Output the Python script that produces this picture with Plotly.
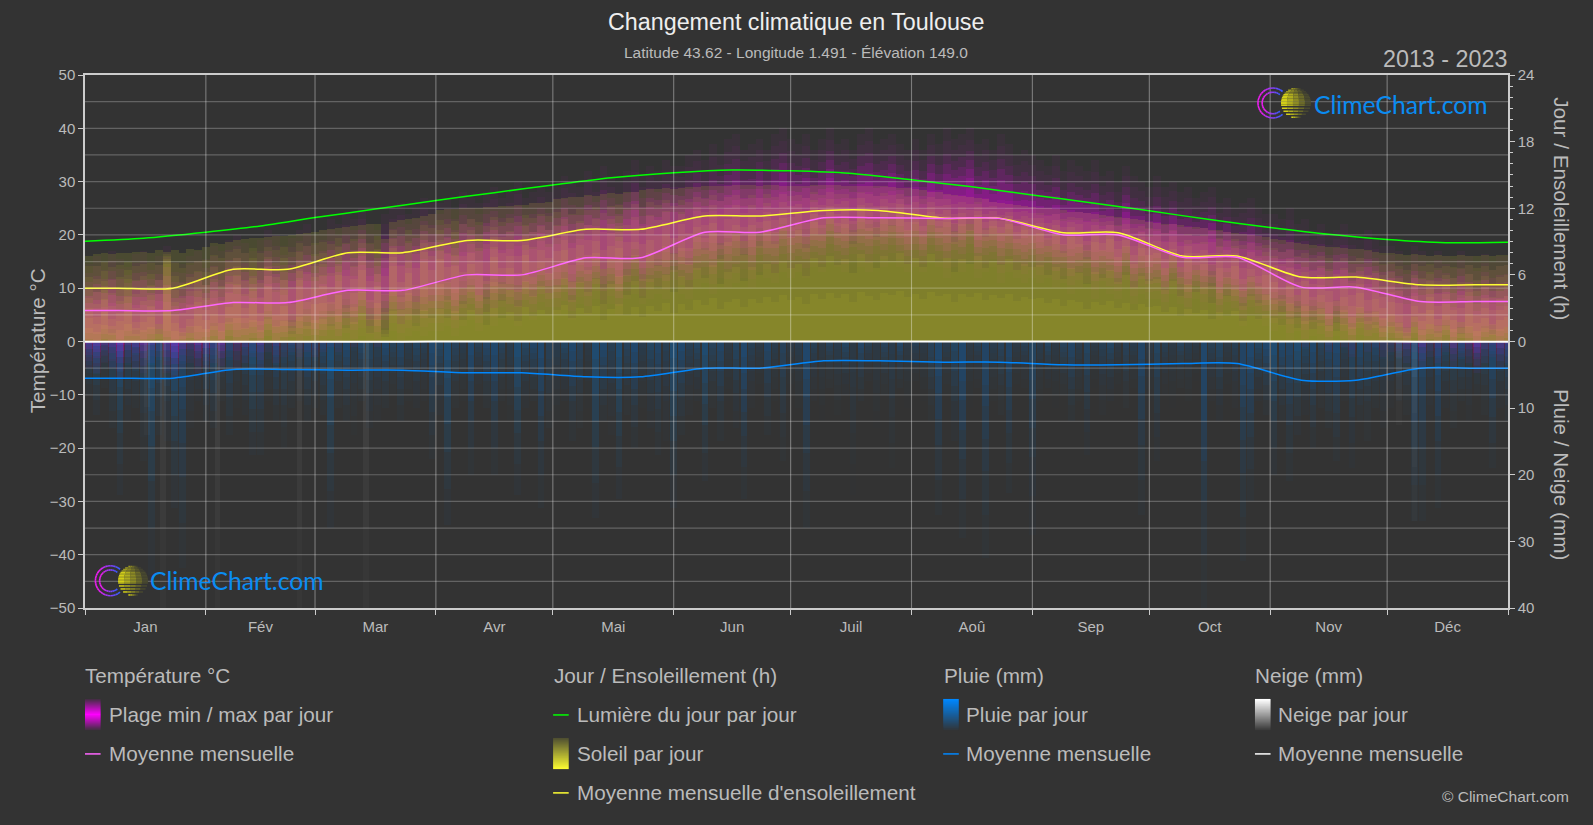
import math
import plotly.graph_objects as go

# ---------- data ----------
MONTHS = ["Jan", "Fév", "Mar", "Avr", "Mai", "Jun", "Juil", "Aoû", "Sep", "Oct", "Nov", "Déc"]
MONTH_LEN = [31, 28, 31, 30, 31, 30, 31, 31, 30, 31, 30, 31]

TEMP_MONTH = [5.8, 7.3, 9.6, 12.5, 15.7, 20.5, 23.2, 23.1, 20.0, 15.8, 10.2, 7.5]
SUN_MONTH = [4.8, 6.5, 8.0, 9.1, 10.1, 11.3, 11.8, 11.1, 9.8, 7.7, 5.8, 5.1]
RAIN_MONTH = [5.5, 4.2, 4.3, 4.7, 5.3, 4.0, 2.9, 3.1, 3.5, 3.3, 5.8, 4.0]
SNOW_MONTH = [0.05, 0.05, 0.03, 0, 0, 0, 0, 0, 0, 0, 0, 0.02]

DAYLIGHT_DAY = [0, 15, 31, 45, 59, 74, 90, 105, 120, 135, 151, 166, 181, 196, 212, 227, 243, 258, 273, 288, 304, 319, 334, 349, 365]
DAYLIGHT_H = [9.03, 9.3, 9.84, 10.4, 11.16, 11.9, 12.7, 13.4, 14.1, 14.75, 15.2, 15.45, 15.37, 15.15, 14.56, 13.95, 13.2, 12.5, 11.77, 11.0, 10.27, 9.65, 9.18, 8.9, 8.94]

# two-day readings
SUN_MAX = [7.7,7.9,8.0,7.9,8.0,8.0,8.1,8.1,8.0,8.2,8.1,8.2,8.0,8.3,8.2,8.5,
 8.9,8.8,9.0,9.1,9.2,9.3,9.3,9.4,9.5,9.5,9.6,9.7,9.8,9.9,
 10.0,10.1,10.2,10.3,10.4,10.5,10.6,10.6,9.2,10.8,10.9,11.0,11.1,11.3,11.5,
 11.8,11.9,11.9,12.0,12.0,12.0,12.1,12.1,12.2,12.2,12.3,12.3,12.5,12.5,12.6,
 12.8,12.9,13.0,13.0,13.2,13.1,13.3,13.4,13.3,13.5,13.5,13.6,13.7,13.7,13.8,13.7,
 13.8,13.9,13.9,14.0,14.0,14.0,14.0,14.1,14.1,14.1,14.0,14.1,14.1,14.0,14.0,
 14.0,14.0,14.1,14.1,14.1,14.1,14.0,14.0,14.0,14.0,14.0,14.0,13.9,13.8,13.8,
 13.7,13.6,13.5,13.5,13.3,13.2,13.1,13.0,12.9,12.8,12.6,12.5,12.4,12.3,12.2,12.1,
 12.0,12.0,11.9,11.8,11.7,11.7,11.6,11.5,11.4,11.3,11.2,11.1,11.0,10.9,10.8,
 10.7,10.6,10.6,10.5,10.3,10.3,10.2,10.0,10.0,9.9,9.8,9.7,9.6,9.5,9.4,
 9.2,9.1,9.0,8.9,8.8,8.7,8.6,8.5,8.5,8.4,8.3,8.3,8.2,8.1,8.0,
 8.0,7.9,7.8,7.9,7.8,7.7,7.8,7.7,7.7,7.8,7.7,7.7,7.8,7.7,7.8,7.8]
SUN_TYP = [3.0,2.2,3.8,2.0,2.6,4.0,1.8,2.5,3.2,1.6,7.0,2.4,1.2,2.0,3.6,2.8,
 3.5,2.4,4.4,5.2,3.0,4.8,2.6,5.0,3.4,4.6,1.8,5.5,3.6,4.8,
 5.0,3.6,6.0,3.0,4.4,6.4,2.0,5.0,1.0,6.8,4.0,6.2,3.6,7.2,5.2,
 7.4,5.4,6.8,4.8,7.0,6.0,3.8,7.6,5.2,6.6,4.6,7.8,5.8,7.2,6.2,
 7.0,8.2,5.4,7.6,6.4,8.0,4.8,7.4,8.4,6.0,7.8,5.6,8.0,6.8,8.6,6.4,
 8.4,7.0,9.4,8.2,9.8,7.4,9.0,9.6,7.8,9.6,8.6,10.0,8.8,10.4,9.4,
 10.0,8.4,10.8,9.6,11.0,9.8,10.6,8.8,11.2,10.2,9.4,11.0,10.4,11.4,10.0,
 10.8,9.6,11.2,10.2,10.8,9.0,10.6,10.0,11.0,9.4,10.4,9.8,10.6,9.2,10.0,9.6,
 9.8,8.6,9.6,8.0,9.4,8.8,7.4,9.0,8.2,9.2,7.6,8.6,7.0,8.4,7.8,
 8.0,6.6,7.8,5.8,7.4,6.4,7.0,5.0,6.6,5.8,6.8,4.6,5.8,5.0,6.0,
 5.4,3.8,5.0,3.0,4.6,2.8,4.2,3.6,2.4,4.0,3.2,4.4,2.6,3.8,3.0,
 3.6,2.4,1.2,3.2,2.6,4.0,2.0,3.4,2.8,1.8,3.6,2.4,3.0,1.6,2.8,3.2]
TEMP_MAX = [14.5,16,15,17,15.5,14,16.5,17,15,16,18,15,14.5,16,17,15.5,
 18,17,19,20,18.5,17,19,21,20,18,19.5,21,22,20,
 21,23,22,24,23,25,22,21,24,25,26,24,25,27,26,
 26,27,25,28,27,26,28,29,27,28,30,27,28,29,28,
 29,31,30,29,32,30,33,31,30,32,34,31,33,32,34,33,
 33,35,36,34,37,35,38,39,36,37,38,36,39,40,38,
 37,39,36,38,40,37,38,36,39,40,37,38,39,37,36,
 38,36,39,37,40,38,39,40,37,38,36,39,37,35,36,35,
 34,33,35,32,34,33,32,34,31,32,30,33,31,30,29,
 31,29,30,28,29,27,28,29,26,27,25,26,27,25,24,
 24,23,25,22,23,21,22,20,21,22,20,19,21,19,18,
 18,17,16,18,17,16,17,16,15.5,17,16,15,16.5,15,16,16]
TEMP_MIN = [-5,-6,-4,-5,-7,-4,-5,-6,-4,-3,-6,-7,-5,-4,-6,-5,
 -4,-6,-3,-5,-4,-3,-5,-2,-4,-3,-2,-3,-2,-3,
 -2,-1,-2,0,-1,1,0,-1,1,2,0,1,2,1,2,
 2,3,1,3,4,2,4,3,5,4,3,5,4,6,5,
 5,6,4,7,5,8,6,7,5,8,9,7,8,9,8,10,
 9,8,10,11,9,12,10,11,12,10,13,12,11,13,12,
 13,12,14,13,15,14,13,15,14,13,15,14,15,14,13,
 14,13,15,14,12,14,13,15,12,13,14,11,13,12,11,12,
 11,12,10,11,9,10,11,8,10,9,8,10,7,9,8,
 8,6,9,7,5,8,6,7,4,6,5,3,5,4,3,
 2,3,0,2,-1,1,0,-2,1,-1,-3,0,-2,-1,-3,
 -2,-3,-4,-2,-5,-3,-4,-2,-5,-3,-4,-6,-4,-3,-5,-4]
RAIN_MAX = [8,11,7,13,23,12,10,18,35,14,15,25,34,13,9,12,
 13,9,14,10,11,17,17,9,12,16,10,9,12,10,
 11,28,10,12,14,9,13,12,10,8,12,9,10,9,17.6,
 11,27.6,10,9,20,8,10,20,9,12,23,10,9,25,13,
 12,9,15,13,10,26.5,12,14,23.6,11,16,10,13,17,15,25,
 14,11,9,21,10,15,9,13,23.6,10,8,14,9,18,8,
 10,28,9,12,7,11,8,23,9,6,13,8,19,7,10,
 6,9,12,26,8,15,29.5,10,7,32.5,9,11,22.8,8,7,29,
 9,7,10,8,12,9,17,7,11,9,8,10,7,26,9,
 18,8,10,7,9,6,40,9,12,8,10,33,24,9,11,
 20,12,21,14,11,16,10,13,18,9,19,12,15,10,13,
 10,9,11,27,27,12,25,10,13,9,12,8,11,19,10,12]
RAIN_WET = [.8,1,.6,.8,1,.7,.9,.6,1,.9,.7,1,.8,.5,.7,.9,
 .9,.6,.8,.4,.7,1,.8,.4,.9,.6,.8,.5,.9,.7,
 .8,1,.6,.9,.4,.8,.7,.5,.9,.6,.8,.4,.7,.5,.9,
 .7,1,.6,.4,.9,.5,.8,.9,.6,.4,1,.7,.8,.9,.6,
 .4,.7,.9,.6,.3,1,.9,.5,1,.6,.9,.4,.7,.8,.5,1,
 .9,.5,.7,1,.6,.8,.3,.7,.9,.5,.3,.8,.4,.6,.3,
 .4,.9,.5,.3,.6,.4,.7,.3,.8,.5,.3,.6,.4,.8,.3,
 .5,.3,.6,.9,.4,.7,.9,.3,.5,.8,.4,.6,.8,.3,.5,.7,
 .4,.7,.3,.6,.8,.4,.7,.3,.5,.7,.3,.6,.4,.8,.3,
 .7,.5,.3,.6,.4,.3,.9,.5,.7,.3,.5,.8,.9,.7,.9,
 1,.9,.8,1,.7,.9,.6,.8,.9,.5,.7,.9,.6,.8,.5,
 .5,.7,.6,.9,.8,.5,.9,.7,.6,.9,.5,.8,.6,.9,.7,.9]
SNOW_DAY = [16, 20, 34, 55, 72, 337, 341]
SNOW_MM = [14, 40, 40, 40, 40, 12.5, 27]

BIN_X = [2 * i + 1 for i in range(len(SUN_MAX))]

# ---------- frame (pixels) ----------
W, H = 1593, 825
L, R, T, B = 85.3, 1508, 74.7, 608
BG = "#333333"
TXT = "#bbbbbb"
FONT = "Liberation Sans"
px = lambda x: (x - L) / (R - L)
py = lambda y: (B - y) / (B - T)

fig = go.Figure()


def bars(y, base, axis, colour, width=2.0, opacity=None):
    fig.add_trace(go.Bar(x=BIN_X if len(y) == len(BIN_X) else SNOW_DAY, y=y, base=base, width=width, yaxis=axis,
                         marker=dict(color=colour, opacity=opacity, line=dict(width=0)),
                         hoverinfo="skip", showlegend=False))


# temperature layers around a point a little below mid-range (lowest layer)
TEMP_MID = [b + (a - b) * .43 for a, b in zip(TEMP_MAX, TEMP_MIN)]
for f, alpha in [(1, .035), (.85, .04), (.7, .065), (.58, .1), (.46, .12), (.34, .13), (.22, .1)]:
    bars([(a - b) * f for a, b in zip(TEMP_MAX, TEMP_MIN)],
         [m - (m - b) * f for m, b in zip(TEMP_MID, TEMP_MIN)],
         "y", "rgba(255,0,255,%g)" % alpha)

# sunshine layers: fade between typical and max, then dense under typical
SUN_A = "rgba(250,250,40,0.06)"
for g in [1, 1, .8, .6, .4, .2, 0]:
    bars([t + (m - t) * g for t, m in zip(SUN_TYP, SUN_MAX)], None, "y2", SUN_A)
for g in [.7, .4]:
    bars([t * g for t in SUN_TYP], None, "y2", SUN_A)

# rain hangs from zero on a reversed axis
for f, alpha in [(1, .032), (.8, .035), (.6, .05), (.45, .06), (.3, .065), (.2, .06), (.1, .06)]:
    bars([r * f for r in RAIN_MAX], None, "y3", "rgba(0,136,255,%g)" % alpha, width=1.7, opacity=RAIN_WET)
for f in [1, .7, .4, .2]:
    bars([s * f for s in SNOW_MM], None, "y3", "rgba(255,255,255,0.025)", width=1.5)

# monthly curves
starts = [sum(MONTH_LEN[:i]) for i in range(12)]
centres = [s + n / 2 for s, n in zip(starts, MONTH_LEN)]
curve_x = [0] + [c + d for c in centres for d in (-7, 7)] + [365]


def curve(values):
    return [values[0]] + [v for v in values for _ in (0, 1)] + [values[-1]]


def line(x, y, axis, colour, width=1.5, smoothing=0.75):
    fig.add_trace(go.Scatter(x=x, y=y, yaxis=axis, mode="lines", hoverinfo="skip", showlegend=False,
                             line=dict(color=colour, width=width, shape="spline", smoothing=smoothing)))


line(DAYLIGHT_DAY, DAYLIGHT_H, "y4", "#00ff00")
line(curve_x, curve(SUN_MONTH), "y4", "#ffff33")
line(curve_x, curve(TEMP_MONTH), "y5", "#ff66ff")
line(curve_x, curve(RAIN_MONTH), "y6", "#0088ff")
line(curve_x, curve(SNOW_MONTH), "y6", "#ffffff", 2)

# ---------- shapes ----------
shapes = []
for v in range(-45, 50, 5):
    if v != 0:
        shapes.append(dict(type="line", xref="x", yref="y", x0=0, x1=365, y0=v, y1=v, layer="above",
                           line=dict(color="rgba(255,255,255,0.24)", width=1.2)))
for s in starts[1:]:
    shapes.append(dict(type="line", xref="x", yref="y", x0=s, x1=s, y0=-50, y1=50, layer="above",
                       line=dict(color="rgba(255,255,255,0.36)", width=1.1)))


def rect(x0, x1, y0, y1, colour):
    shapes.append(dict(type="rect", xref="paper", yref="paper", x0=px(x0), x1=px(x1), y0=py(y1), y1=py(y0),
                       line=dict(width=0), fillcolor=colour, layer="above"))


def swatch(x, y0, y1, fn):
    n = int(y1 - y0)
    for i in range(n):
        rect(x, x + 15.6, y0 + i, y0 + i + 1.2, fn(i / (n - 1)))


def mix(a, t):
    return "rgb(%d,%d,%d)" % tuple(51 + (c - 51) * t for c in a)


def logo(ring_x, disc_x, cy, text_x, text_y):
    for r in (15, 10.8):
        steps = 26
        for k in range(steps):
            a0 = math.radians(50 + k * 260 / steps)
            a1 = math.radians(50 + (k + 1) * 260 / steps)
            t = 1 - abs(k / (steps - 1) - .5) * 2
            t = min(1, t * 1.5)
            col = "rgb(%d,%d,%d)" % (60 + 175 * t, 90 - 60 * t, 255 - 15 * t)
            shapes.append(dict(type="line", xref="paper", yref="paper",
                               x0=px(ring_x + r * math.cos(a0)), y0=py(cy - r * math.sin(a0)),
                               x1=px(ring_x + r * math.cos(a1)), y1=py(cy - r * math.sin(a1)),
                               line=dict(color=col, width=1.6), layer="above"))
    for row in range(20):
        yy = -15 + row * 1.5
        if yy > 0 and row % 2 == 0:
            continue
        half = math.sqrt(max(225 - (yy + .75) ** 2, 0))
        for j in range(5):
            t = 1 - j / 4
            bright = .12 + .72 * t
            if yy < -9:
                bright *= .65
            col = mix((240, 235, 20), bright)
            rect(disc_x - half + 2 * half * j / 5, disc_x - half + 2 * half * (j + 1) / 5, cy + yy, cy + yy + 1.5, col)
    annotations.append(dict(text="ClimeChart.com", xref="paper", yref="paper", x=px(text_x), y=py(text_y),
                            xanchor="left", yanchor="middle", showarrow=False,
                            font=dict(family="Lato", size=24.7, color="#0a8cf2")))


annotations = []


def note(text, x, y, size=20.7, colour=TXT, anchor="left", angle=0):
    annotations.append(dict(text=text, xref="paper", yref="paper", x=px(x), y=py(y), xanchor=anchor, yanchor="middle",
                            showarrow=False, textangle=angle, font=dict(family=FONT, size=size, color=colour)))


note("Changement climatique en Toulouse", 796.5, 22, 23.3, "#eeeeee", "center")
note("Latitude 43.62 - Longitude 1.491 - Élévation 149.0", 796.5, 52, 15.5, TXT, "center")
note("2013 - 2023", 1509, 59, 23.3, TXT, "right")
note("Température °C", 37.5, 341, 20.7, TXT, "center", -90)
note("Jour / Ensoleillement (h)", 1562, 208, 20.7, TXT, "center", 90)
note("Pluie / Neige (mm)", 1562, 474, 20.7, TXT, "center", 90)
note("© ClimeChart.com", 1571, 797, 15.5, TXT, "right")

COL = [85.3, 553.3, 943.3, 1255]
TEXT_X = [107, 574.7, 964.4, 1276.4]
ROW = [676, 715, 754, 793]
for x, head in zip(COL, ["Température °C", "Jour / Ensoleillement (h)", "Pluie (mm)", "Neige (mm)"]):
    note(head, x - 1.5, ROW[0])
for col, row, label in [(0, 1, "Plage min / max par jour"), (0, 2, "Moyenne mensuelle"),
                        (1, 1, "Lumière du jour par jour"), (1, 2, "Soleil par jour"),
                        (1, 3, "Moyenne mensuelle d'ensoleillement"),
                        (2, 1, "Pluie par jour"), (2, 2, "Moyenne mensuelle"),
                        (3, 1, "Neige par jour"), (3, 2, "Moyenne mensuelle")]:
    note(label, TEXT_X[col], ROW[row])

swatch(COL[0], 699, 730, lambda t: mix((255, 0, 255), 1 - abs(t - .5) * 1.8))
swatch(COL[1], 738, 769, lambda t: mix((250, 250, 50), .15 + .85 * t))
swatch(COL[2], 699, 730, lambda t: mix((0, 136, 255), 1 - .95 * t))
swatch(COL[3], 699, 730, lambda t: mix((255, 255, 255), 1 - .95 * t))
for col, row, colour in [(0, 2, "#ff66ff"), (1, 1, "#00ff00"), (1, 3, "#ffff33"), (2, 2, "#0088ff"), (3, 2, "#ffffff")]:
    shapes.append(dict(type="line", xref="paper", yref="paper", x0=px(COL[col]), x1=px(COL[col] + 15.6),
                       y0=py(ROW[row]), y1=py(ROW[row]), line=dict(color=colour, width=1.5), layer="above"))

logo(1273, 1296, 102.7, 1312, 104)
logo(110.7, 133.3, 580.7, 148.7, 580.5)

AX = dict(showgrid=False, zeroline=False, showline=True, linecolor="#cccccc", linewidth=1.5,
          ticks="outside", ticklen=5, tickwidth=1.2, tickcolor="#cccccc",
          tickfont=dict(family=FONT, size=15, color=TXT))
HIDE = dict(visible=False, overlaying="y", fixedrange=True)

fig.update_layout(
    width=W, height=H, autosize=False, paper_bgcolor=BG, plot_bgcolor=BG, barmode="overlay", bargap=0,
    showlegend=False, margin=dict(l=L, r=W - R, t=T, b=H - B, pad=0),
    font=dict(family=FONT, color=TXT),
    xaxis=dict(range=[0, 365], tickmode="array", tickvals=centres, ticktext=MONTHS, showgrid=False, zeroline=False,
               showline=True, mirror=True, linecolor="#cccccc", linewidth=1.5, ticks="", ticklen=0,
               ticklabelstandoff=4, tickfont=dict(family=FONT, size=15, color=TXT),
               minor=dict(tickmode="array", tickvals=[0] + starts[1:] + [365], ticks="outside", ticklen=5,
                          tickwidth=1.2, tickcolor="#cccccc", showgrid=False)),
    yaxis=dict(range=[-50, 50], side="left", tickmode="array", tickvals=list(range(-50, 51, 10)), **AX),
    yaxis2=dict(range=[-24, 24], side="right", overlaying="y", tickmode="array", tickvals=[0, 6, 12, 18, 24],
                minor=dict(tickmode="array", tickvals=[h for h in range(1, 24) if h % 6], ticks="outside", ticklen=3,
                           tickwidth=1, tickcolor="#cccccc", showgrid=False), **AX),
    yaxis3=dict(range=[40, -40], side="right", overlaying="y", tickmode="array", tickvals=[10, 20, 30, 40], **AX),
    yaxis4=dict(range=[-24, 24], **HIDE),
    yaxis5=dict(range=[-50, 50], **HIDE),
    yaxis6=dict(range=[40, -40], **HIDE),
    shapes=shapes, annotations=annotations,
)

fig.write_html("out.html", config={"displayModeBar": False},
               post_script="document.body.style.margin='0';document.body.style.overflow='hidden';")
